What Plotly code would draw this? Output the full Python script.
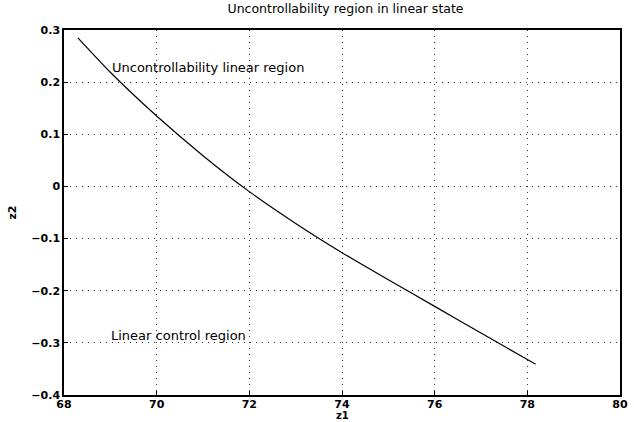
import plotly.graph_objects as go

z1 = [68.3, 69.0, 70.0, 71.0, 72.0, 73.0, 74.0, 75.0, 76.0, 77.0, 78.0, 78.18]
z2 = [0.285, 0.219, 0.135, 0.059, -0.010, -0.071, -0.127, -0.179, -0.230, -0.281, -0.332, -0.341]

x_ticks = [68, 70, 72, 74, 76, 78, 80]
y_ticks = [-0.4, -0.3, -0.2, -0.1, 0, 0.1, 0.2, 0.3]
y_tick_text = ["\u22120.4", "\u22120.3", "\u22120.2", "\u22120.1", "0", "0.1", "0.2", "0.3"]

font = "DejaVu Sans, Verdana, sans-serif"

fig = go.Figure()
fig.add_trace(go.Scatter(x=z1, y=z2, mode="lines", line=dict(color="black", width=1.2, shape="spline", smoothing=0.6),
                         showlegend=False, hoverinfo="skip"))

fig.add_annotation(x=69.0, y=0.228, text="Uncontrollability linear region", showarrow=False,
                   xanchor="left", yanchor="middle", font=dict(family=font, size=13, color="black"))
fig.add_annotation(x=68.98, y=-0.285, text="Linear control region", showarrow=False,
                   xanchor="left", yanchor="middle", font=dict(family=font, size=13, color="black"))
# x-axis title, placed just at the bottom edge as in the reference
fig.add_annotation(x=74, xref="x", y=-27 / 365, yref="paper", text="z1", showarrow=False,
                   xanchor="center", yanchor="bottom", borderpad=0,
                   font=dict(family=font, size=10, color="black", weight="bold"))

axis_common = dict(showline=True, linecolor="black", linewidth=1.5, mirror=True,
                   showgrid=True, gridcolor="#333", griddash="1px,5px", gridwidth=1,
                   zeroline=False, ticks="inside", ticklen=4, tickcolor="black",
                   automargin=False,
                   tickfont=dict(family=font, size=11, color="black", weight="bold"))

fig.update_xaxes(range=[68, 80], tickvals=x_ticks, ticktext=[str(t) for t in x_ticks],
                 ticklabelstandoff=-2, **axis_common)
fig.update_yaxes(range=[-0.4, 0.3], tickvals=y_ticks, ticktext=y_tick_text,
                 title=dict(text="z2", font=dict(family=font, size=11, color="black", weight="bold"), standoff=12),
                 **axis_common)

fig.update_layout(
    width=634, height=422,
    margin=dict(l=64, r=14, t=30, b=27),
    paper_bgcolor="white", plot_bgcolor="white",
    title=dict(text="Uncontrollability region in linear state", x=0.545, xanchor="center",
               y=0.99, yanchor="top", font=dict(family=font, size=12.5, color="black")),
)

fig.write_html("out.html")
